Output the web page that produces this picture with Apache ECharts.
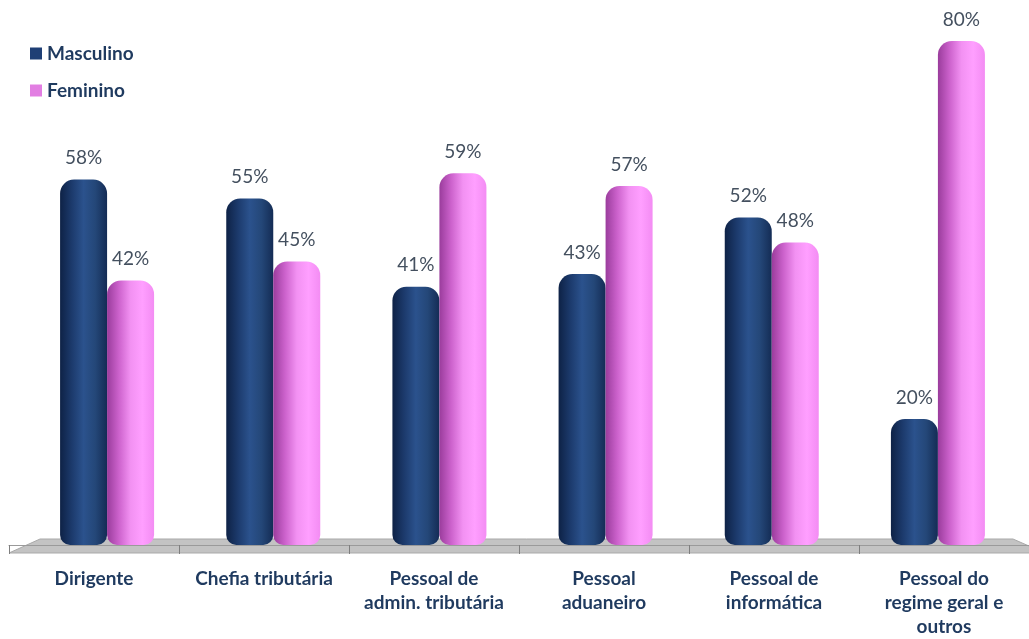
<!DOCTYPE html>
<html>
<head>
<meta charset="utf-8">
<script src="https://cdn.jsdelivr.net/npm/echarts@6/dist/echarts.min.js"></script>
<style>
  html, body { margin: 0; padding: 0; background: #fff; }
  #chart { width: 1029px; height: 639px; }
</style>
</head>
<body>
<div id="chart"></div>
<script>
// Distribuição por género em cada grupo de pessoal (%)
const categories = [
  'Dirigente',
  'Chefia tributária',
  'Pessoal de\nadmin. tributária',
  'Pessoal\naduaneiro',
  'Pessoal de\ninformática',
  'Pessoal do\nregime geral e\noutros'
];
const masculino = [58, 55, 41, 43, 52, 20];
const feminino = [42, 45, 59, 57, 48, 80];

const FONT = 'Lato, "Open Sans", sans-serif';

function cylinder(stops) {
  return new echarts.graphic.LinearGradient(0, 0, 1, 0,
    stops.map(function (c, i) { return { offset: i / (stops.length - 1), color: c }; }));
}

const navy = cylinder(['#0e2246', '#1c3a6c', '#2b528d', '#244778', '#142c55']);
const pink = cylinder(['#9a3c9c', '#cc62cc', '#f291f2', '#ff9fff', '#f38cf3']);

const chart = echarts.init(document.getElementById('chart'));

const valueLabel = {
  show: true,
  position: 'top',
  distance: 12,
  formatter: '{c}%',
  color: '#44505f',
  fontFamily: FONT,
  fontSize: 19
};

chart.setOption({
  animation: false,
  backgroundColor: '#ffffff',
  legend: {
    orient: 'vertical',
    left: 25,
    top: 39,
    itemWidth: 12,
    itemHeight: 12,
    itemGap: 18,
    icon: 'rect',
    textStyle: { color: '#1f3a5f', fontFamily: FONT, fontSize: 19, fontWeight: 'bold' },
    data: [
      { name: 'Masculino', itemStyle: { color: '#1f3f75' } },
      { name: 'Feminino', itemStyle: { color: '#e27ee2' } }
    ]
  },
  graphic: [{
    type: 'polygon',
    z: -1,
    shape: { points: [[9, 553], [40, 539], [1013, 539], [1045, 553]] },
    style: { fill: '#c3c3c3', stroke: '#a9a9a9', lineWidth: 1 }
  }],
  grid: [
    { left: 24, top: 41, width: 997, height: 504 },
    { left: 9, top: 41, width: 1020, height: 512 }
  ],
  xAxis: [
    {
      type: 'category', gridIndex: 0, data: categories,
      axisLine: { show: false }, axisTick: { show: false }, axisLabel: { show: false }
    },
    {
      type: 'category', gridIndex: 1, data: categories,
      axisLine: { show: true, lineStyle: { color: '#9a9a9a', width: 1 } },
      axisTick: { show: true, length: 9, lineStyle: { color: '#7f7f7f' } },
      axisLabel: {
        margin: 22,
        color: '#1f3a5f',
        fontFamily: FONT,
        fontSize: 19,
        fontWeight: 'bold',
        lineHeight: 24,
        interval: 0
      }
    }
  ],
  yAxis: [
    { type: 'value', gridIndex: 0, min: 0, max: 80, show: false, splitLine: { show: false } },
    { type: 'value', gridIndex: 1, min: 0, max: 80, show: false, splitLine: { show: false } }
  ],
  series: [
    {
      name: 'Masculino', type: 'bar', xAxisIndex: 0, yAxisIndex: 0,
      data: masculino, barWidth: 47, barGap: '0%',
      itemStyle: { color: navy, borderRadius: [14, 14, 10, 10] },
      label: valueLabel
    },
    {
      name: 'Feminino', type: 'bar', xAxisIndex: 0, yAxisIndex: 0,
      data: feminino, barWidth: 47, barGap: '0%',
      itemStyle: { color: pink, borderRadius: [14, 14, 10, 10] },
      label: valueLabel
    }
  ]
});
</script>
</body>
</html>
